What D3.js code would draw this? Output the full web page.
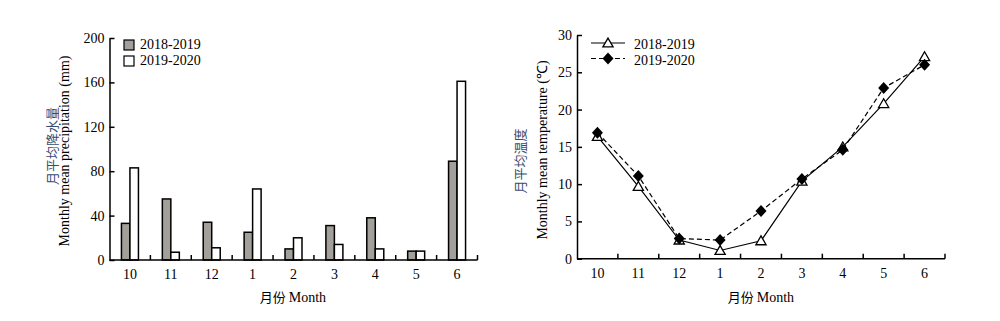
<!DOCTYPE html>
<html><head><meta charset="utf-8">
<script src="https://cdn.jsdelivr.net/npm/d3@7"></script>
<style>
body{margin:0;background:#fff;}
svg text{font-family:"Liberation Serif","Times New Roman",serif;font-size:14px;fill:#000;}
svg text.cn{font-family:"Noto Sans CJK SC",sans-serif;font-size:13px;}
</style></head>
<body><svg id="c" width="1000" height="321"></svg>
<script>
const months = ["10","11","12","1","2","3","4","5","6"];
const seriesNames = ["2018-2019","2019-2020"];
const precip1819 = [33,55,34,25,10,31,38,8,89];
const precip1920 = [83,7,11,64,20,14,10,8,161];
const temp1819 = [16.4,9.7,2.5,1.1,2.4,10.4,15.0,20.8,27.1];
const temp1920 = [16.9,11.1,2.7,2.5,6.4,10.7,14.6,22.9,26.0];
const precipTicks = [0,40,80,120,160,200];
const tempTicks = [0,5,10,15,20,25,30];

const svg = d3.select("#c");
const barFill = "#a39f9b";

function xAxisDraw(g, x, y0) {
  g.append("line").attr("x1", x.range()[0]).attr("x2", x.range()[1])
    .attr("y1", y0).attr("y2", y0).attr("stroke","#000").attr("stroke-width",1.5);
  g.selectAll(".bt").data(months).enter().append("line")
    .attr("x1", d => x(d)+x.bandwidth()).attr("x2", d => x(d)+x.bandwidth())
    .attr("y1", y0).attr("y2", y0-5).attr("stroke","#000").attr("stroke-width",1.5);
  const ax = g.append("g").attr("transform",`translate(0,${y0})`)
    .call(d3.axisBottom(x).tickSize(0).tickPadding(9));
  ax.select(".domain").remove();
  ax.selectAll("text").style("font-size","14px").style("font-family","Liberation Serif");
}
function yAxisDraw(g, y, x0, ticks) {
  const ax = g.append("g").attr("transform",`translate(${x0},0)`)
    .call(d3.axisLeft(y).tickValues(ticks).tickSizeInner(-5).tickSizeOuter(0).tickPadding(5));
  ax.select(".domain").attr("stroke-width",1.5);
  ax.selectAll(".tick line").attr("stroke-width",1.5);
  ax.selectAll("text").style("font-size","14px").style("font-family","Liberation Serif");
}
const diamondType = {draw(ctx, size){ const w=5.5, h=6; ctx.moveTo(0,-h); ctx.lineTo(w,0); ctx.lineTo(0,h); ctx.lineTo(-w,0); ctx.closePath(); }};

// ---------- Left: precipitation ----------
{
  const x = d3.scaleBand().domain(months).range([109.5, 477.5]);
  const y = d3.scaleLinear().domain([0,200]).range([260, 38]);
  const g = svg.append("g");
  const bw = 8.5;
  const data = months.map((m,i)=>({m, a:precip1819[i], b:precip1920[i]}));
  g.selectAll(".ba").data(data).enter().append("rect")
    .attr("x", d => x(d.m)+x.bandwidth()/2 - bw).attr("width", bw)
    .attr("y", d => y(d.a)).attr("height", d => y(0)-y(d.a))
    .attr("fill", barFill).attr("stroke","#000").attr("stroke-width",1.5);
  g.selectAll(".bb").data(data).enter().append("rect")
    .attr("x", d => x(d.m)+x.bandwidth()/2).attr("width", bw)
    .attr("y", d => y(d.b)).attr("height", d => y(0)-y(d.b))
    .attr("fill", "#fff").attr("stroke","#000").attr("stroke-width",1.5);
  yAxisDraw(g, y, 109.5, precipTicks);
  xAxisDraw(g, x, 260);
  const fills = [barFill, "#fff"];
  seriesNames.forEach((s,i)=>{
    g.append("rect").attr("x",124).attr("y",40+16*i).attr("width",10).attr("height",10)
      .attr("fill",fills[i]).attr("stroke","#000").attr("stroke-width",1.2);
    g.append("text").attr("x",140).attr("y",49+16*i).text(s);
  });
  g.append("text").attr("class","cn").attr("text-anchor","middle")
    .attr("transform","translate(56.5,146) rotate(-90)").style("fill","#394b6e").text("月平均降水量");
  g.append("text").attr("text-anchor","middle")
    .attr("transform","translate(69,151) rotate(-90)").text("Monthly mean precipitation (mm)");
  const t = g.append("text").attr("text-anchor","middle").attr("x",293).attr("y",302);
  t.append("tspan").style("font-family","Noto Sans CJK SC").style("font-size","13px").text("月份 ");
  t.append("tspan").text("Month");
}

// ---------- Right: temperature ----------
{
  const x = d3.scaleBand().domain(months).range([577, 945]);
  const y = d3.scaleLinear().domain([0,30]).range([258.7, 35]);
  const g = svg.append("g");
  const cx = d => x(d)+x.bandwidth()/2;
  const tri = d3.symbol().type(d3.symbolTriangle).size(45);
  const dia = d3.symbol().type(diamondType);
  const line = d3.line().x(d=>cx(d.m)).y(d=>y(d.v));
  const d1 = months.map((m,i)=>({m, v:temp1819[i]}));
  const d2 = months.map((m,i)=>({m, v:temp1920[i]}));
  g.append("path").datum(d2).attr("d",line).attr("fill","none").attr("stroke","#000")
    .attr("stroke-width",1.2).attr("stroke-dasharray","5,3");
  g.append("path").datum(d1).attr("d",line).attr("fill","none").attr("stroke","#000").attr("stroke-width",1.2);
  g.selectAll(".tr").data(d1).enter().append("path").attr("d",tri)
    .attr("transform",d=>`translate(${cx(d.m)},${y(d.v)+1})`)
    .attr("fill","#fff").attr("stroke","#000").attr("stroke-width",1.3);
  g.selectAll(".dm").data(d2).enter().append("path").attr("d",dia)
    .attr("transform",d=>`translate(${cx(d.m)},${y(d.v)})`).attr("fill","#000");
  yAxisDraw(g, y, 577, tempTicks);
  xAxisDraw(g, x, 258.7);
  [0,1].forEach(i=>{
    const yy = 43+15.5*i;
    g.append("line").attr("x1",591).attr("x2",625).attr("y1",yy).attr("y2",yy)
      .attr("stroke","#000").attr("stroke-width",1.2).attr("stroke-dasharray", i? "5,3": null);
    g.append("path").attr("d", i? dia : tri).attr("transform",`translate(608,${yy+(i?0:1)})`)
      .attr("fill", i? "#000":"#fff").attr("stroke", i? null:"#000").attr("stroke-width",1.3);
    g.append("text").attr("x",634).attr("y",yy+6).text(seriesNames[i]);
  });
  g.append("text").attr("class","cn").attr("text-anchor","middle")
    .attr("transform","translate(524.5,161) rotate(-90)").style("fill","#394b6e").text("月平均温度");
  g.append("text").attr("text-anchor","middle")
    .attr("transform","translate(546.5,150) rotate(-90)").text("Monthly mean temperature (℃)");
  const t = g.append("text").attr("text-anchor","middle").attr("x",761).attr("y",302);
  t.append("tspan").style("font-family","Noto Sans CJK SC").style("font-size","13px").text("月份 ");
  t.append("tspan").text("Month");
}
</script></body></html>
